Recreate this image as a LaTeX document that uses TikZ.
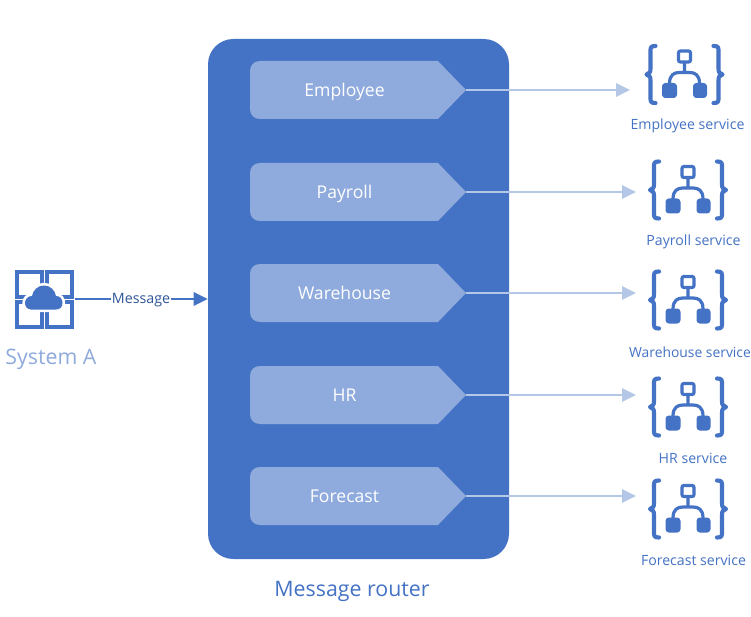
\documentclass[tikz,border=0pt]{standalone}
\usepackage{fontspec}
\setmainfont{Open Sans}
\usetikzlibrary{arrows.meta}
\definecolor{routerblue}{HTML}{4472C4}
\definecolor{lightblue}{HTML}{8FAADC}
\definecolor{paleblue}{HTML}{B4C7E7}
\definecolor{darkblue}{HTML}{2F5597}
\tikzset{
  x=0.75pt,y=-0.75pt,
  routerbox/.style={fill=routerblue,rounded corners=19pt},
  tagshape/.style={fill=lightblue},
  taglabel/.style={text=white,font=\fontsize{13.2pt}{16pt}\selectfont,inner sep=0pt,anchor=base},
  svclabel/.style={text=routerblue,font=\fontsize{10.6pt}{12pt}\selectfont,inner sep=0pt,anchor=base},
  biglabel/.style={font=\fontsize{16pt}{19pt}\selectfont,inner sep=0pt},
  outflow/.style={draw=paleblue,line width=1.3pt,-{Triangle[length=10.5pt,width=10pt]}},
  inflow/.style={draw=routerblue,line width=1.3pt,-{Triangle[length=10.5pt,width=10pt]}},
  pics/servicetag/.style args={#1/#2}{code={
    \fill[tagshape] (-92,-29) -- (86,-29) -- (114,0) -- (86,29) -- (-92,29)
      .. controls (-98,29) and (-102,25) .. (-102,19) -- (-102,-19)
      .. controls (-102,-25) and (-98,-29) .. (-92,-29) -- cycle;
    \coordinate (#2) at (114,0);
    \node[taglabel] at (-7.5,6.5) {#1};
  }},
  pics/appicon/.style={code={
    \draw[routerblue,line width=3.1pt,line cap=round,line join=round]
      (-29,-28.5) .. controls (-34,-28.5) and (-34,-27) .. (-34,-23) -- (-34,-6)
      .. controls (-34,-2) and (-35,-1) .. (-38,0)
      .. controls (-35,1) and (-34,2) .. (-34,6) -- (-34,23)
      .. controls (-34,27) and (-34,28.5) .. (-29,28.5);
    \draw[routerblue,line width=3.1pt,line cap=round,line join=round]
      (29,-28.5) .. controls (34,-28.5) and (34,-27) .. (34,-23) -- (34,-6)
      .. controls (34,-2) and (35,-1) .. (38,0)
      .. controls (35,1) and (34,2) .. (34,6) -- (34,23)
      .. controls (34,27) and (34,28.5) .. (29,28.5);
    \draw[routerblue,line width=2.4pt,rounded corners=1.5pt] (-6,-23.5) rectangle (6,-12.5);
    \draw[routerblue,line width=2.4pt] (0,-12) -- (0,-2) (-15,9) .. controls (-15,0) and (-10,-2) .. (-5,-2)
      -- (5,-2) .. controls (10,-2) and (15,0) .. (15,9);
    \fill[routerblue,rounded corners=2.5pt] (-22.5,8.5) rectangle (-7.5,23.5);
    \fill[routerblue,rounded corners=2.5pt] (8.5,8.5) rectangle (22.5,23.5);
  }},
}
\begin{document}
\begin{tikzpicture}
\useasboundingbox (0,0) rectangle (751,617);
\clip (0,0) rectangle (751,617);
\fill[white] (0,0) rectangle (751,617);

% router
\node[routerbox,minimum width=225.75pt,minimum height=390pt,inner sep=0pt,draw=none] (router) at (358.5,299) {};
\node[biglabel,text=routerblue] (routerlabel) at (352,591) {Message router};

% tags
\pic at (352,90) {servicetag={Employee/tipE}};
\pic at (352,192) {servicetag={Payroll/tipP}};
\pic at (352,293) {servicetag={Warehouse/tipW}};
\pic at (352,395) {servicetag={HR/tipH}};
\pic at (352,496) {servicetag={Forecast/tipF}};

% service icons
\coordinate (iconE) at (684.5,74.5);
\coordinate (iconP) at (688,190);
\coordinate (iconW) at (688,300);
\coordinate (iconH) at (688,407);
\coordinate (iconF) at (688,509);
\pic at (iconE) {appicon};
\pic at (iconP) {appicon};
\pic at (iconW) {appicon};
\pic at (iconH) {appicon};
\pic at (iconF) {appicon};
\node[svclabel] (lblE) at (687.5,130) {Employee service};
\node[svclabel] (lblP) at (693.5,246) {Payroll service};
\node[svclabel,font=\fontsize{10.4pt}{12pt}\selectfont] (lblW) at (690,357) {Warehouse service};
\node[svclabel] (lblH) at (693,463) {HR service};
\node[svclabel] (lblF) at (693.5,565) {Forecast service};

% connector targets
\coordinate (endE) at (630,90);
\coordinate (endP) at (636,192);
\coordinate (endW) at (636,293);
\coordinate (endH) at (636,395);
\coordinate (endF) at (636,496);
\draw[outflow] (tipE) -- (endE);
\draw[outflow] (tipP) -- (endP);
\draw[outflow] (tipW) -- (endW);
\draw[outflow] (tipH) -- (endH);
\draw[outflow] (tipF) -- (endF);

% System A icon
\draw[routerblue,line width=3pt] (17,272) rectangle (41.5,296.5);
\draw[routerblue,line width=3pt] (47,272) rectangle (71.5,296.5);
\draw[routerblue,line width=3pt] (17,302) rectangle (41.5,326.5);
\draw[routerblue,line width=3pt] (47,302) rectangle (71.5,326.5);
\def\cloudpath{(31,309.5) .. controls (27,309.5) and (25,306) .. (25,303) .. controls (25,299) and (28,296) .. (32,296) .. controls (33,290) and (38,285.5) .. (44,285.5) .. controls (50,285.5) and (55,290) .. (56,296) .. controls (60,296) and (62.5,299) .. (62.5,303) .. controls (62.5,307) and (60,309.5) .. (56,309.5) -- cycle}
\draw[white,line width=4pt] \cloudpath;
\fill[routerblue] \cloudpath;
\coordinate (sysA) at (75,299);
\node[biglabel,text=lightblue] (syslabel) at (51,359) {System A};

% message connector
\draw[inflow] (sysA) -- (router.west);
\node[fill=white,text=darkblue,inner sep=0.5pt,font=\fontsize{10.7pt}{12pt}\selectfont] (msg) at (141,300) {Message};
\end{tikzpicture}
\end{document}
